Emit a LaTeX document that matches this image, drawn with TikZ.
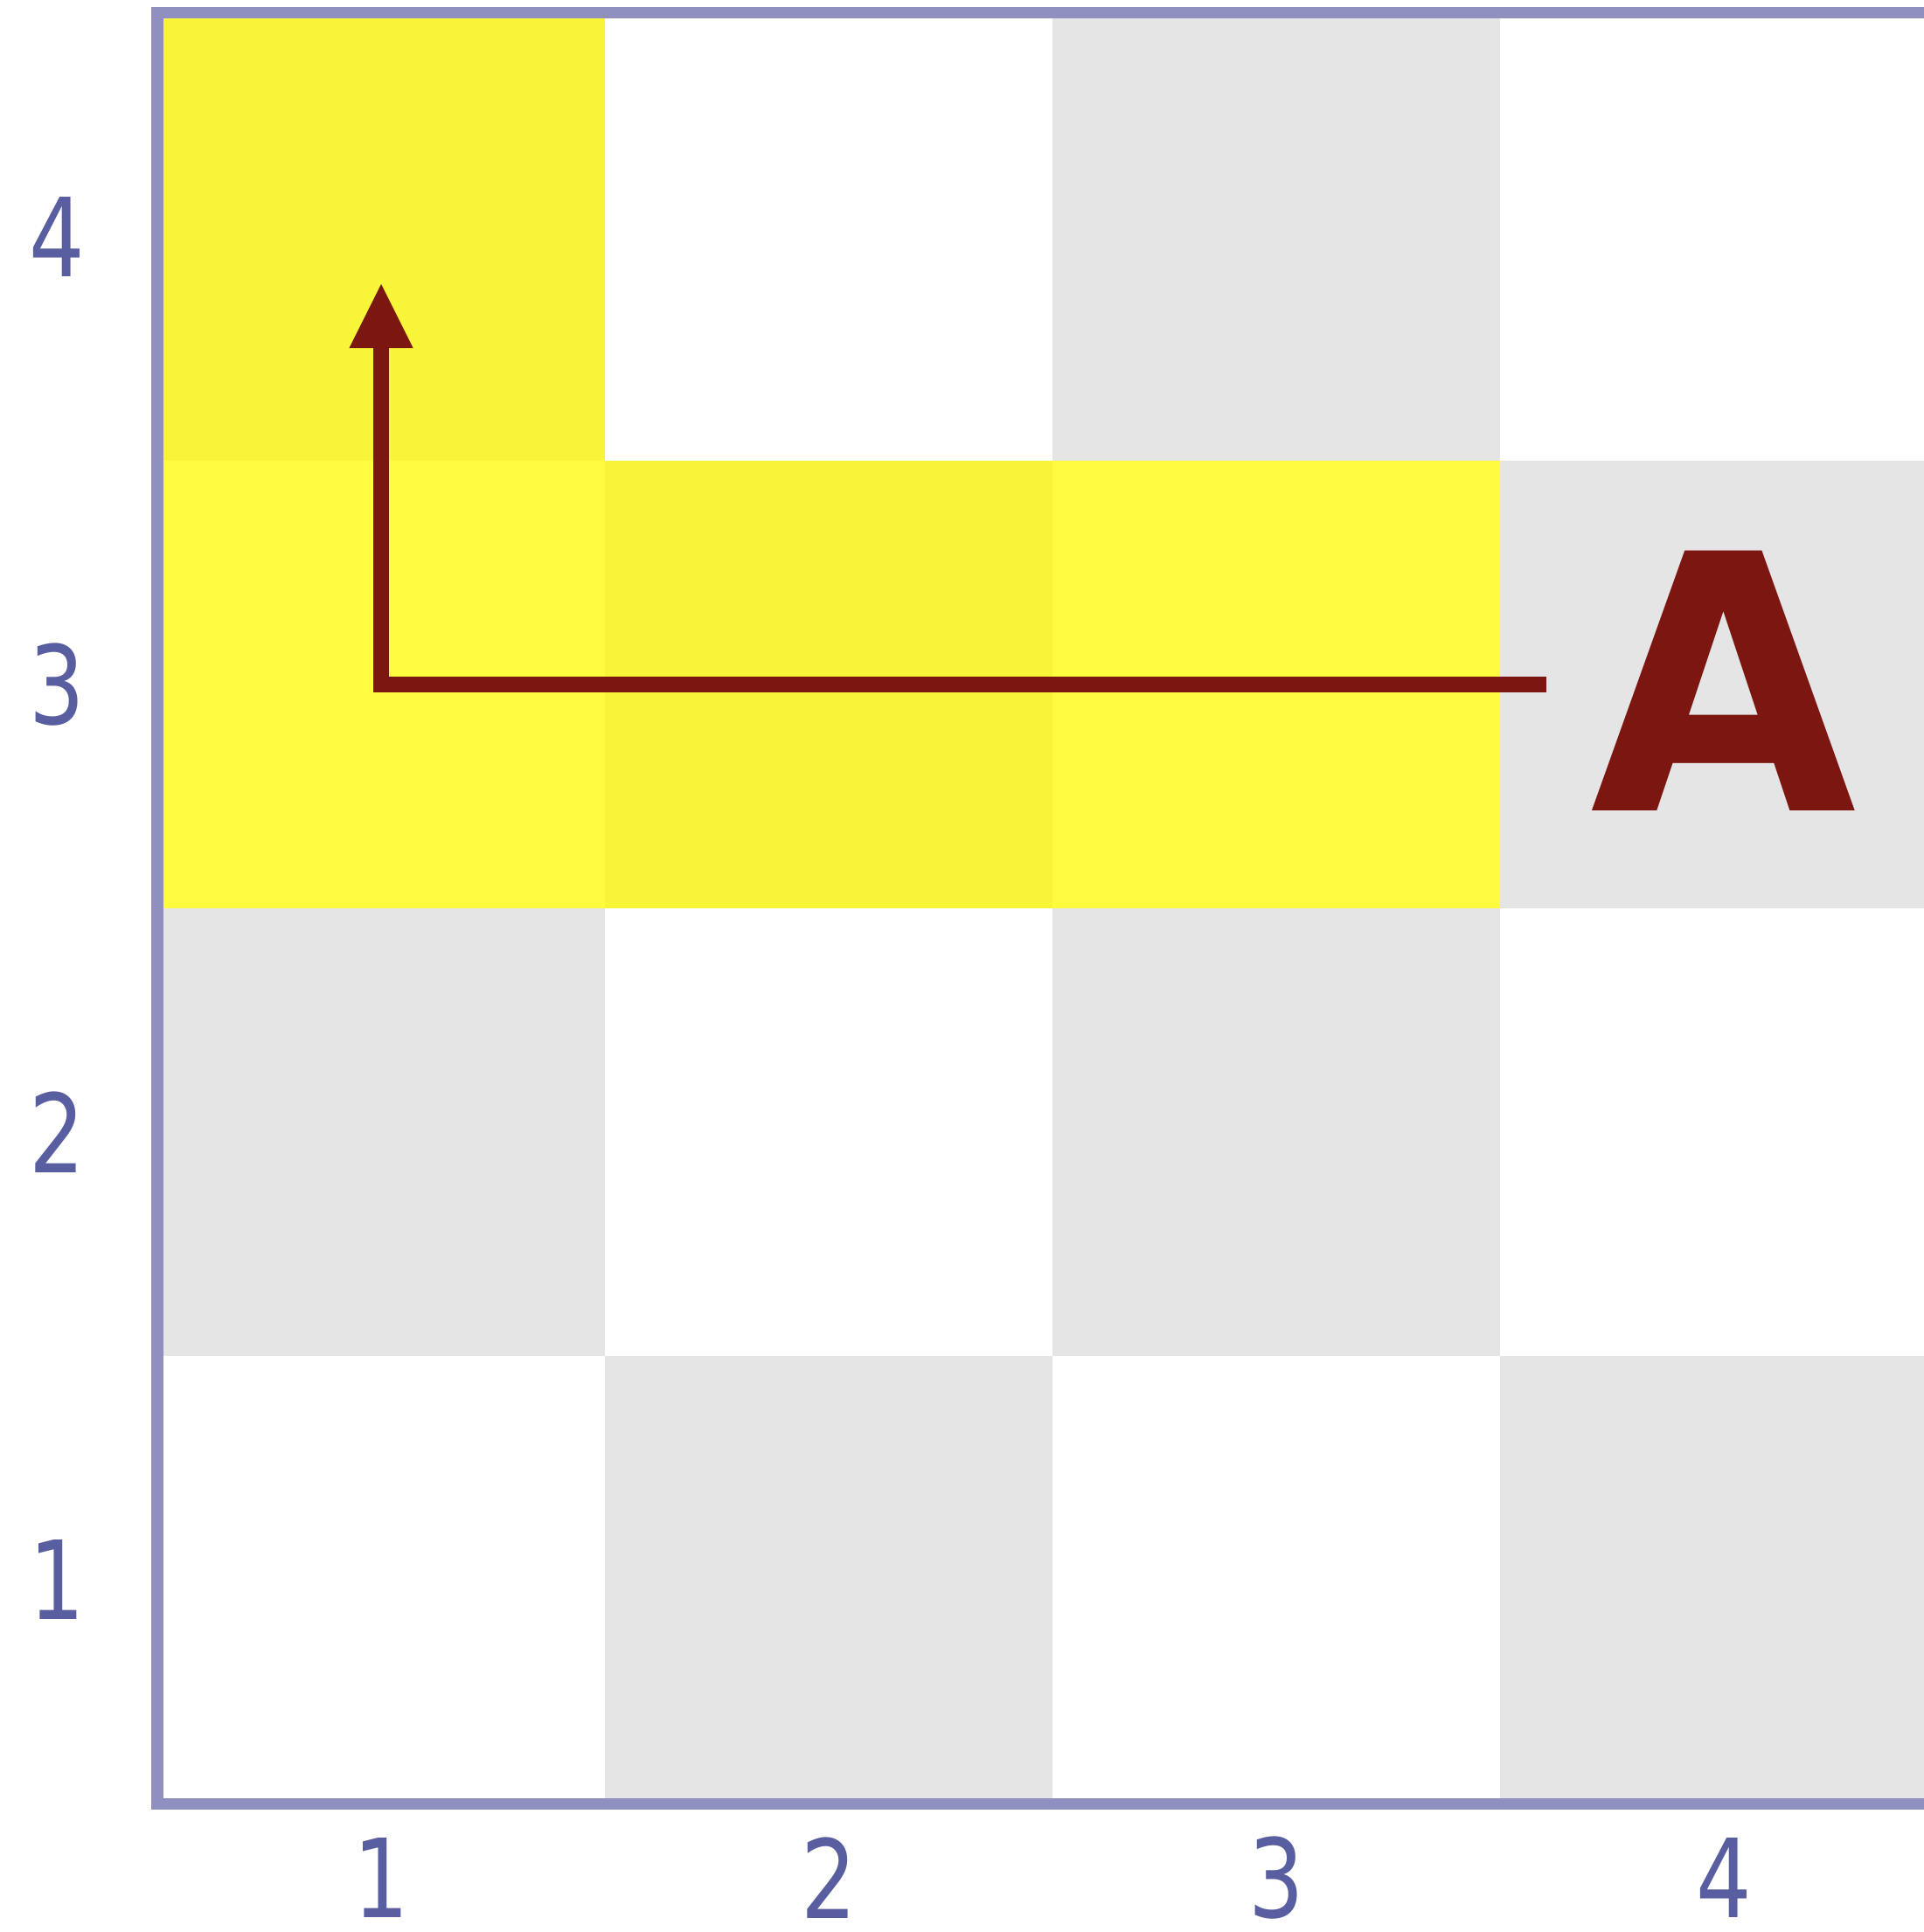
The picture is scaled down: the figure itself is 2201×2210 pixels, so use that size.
\documentclass[tikz,border=0pt]{standalone}
\usepackage{fontspec}
\setmainfont{DejaVu Sans}
\usetikzlibrary{arrows.meta}
\definecolor{cellgrey}{RGB}{229,229,229}
\definecolor{seenyellow}{RGB}{255,251,0}
\definecolor{framecol}{RGB}{144,144,192}
\definecolor{labelcol}{RGB}{89,94,160}
\definecolor{pathred}{RGB}{123,22,16}
\newcommand{\narrowtext}[2]{\scalebox{#1}[1]{#2}}

\begin{document}
\begin{tikzpicture}[x=0.01cm, y=-0.01cm,
  greycell/.style={fill=cellgrey},
  seencell/.style={fill=seenyellow, fill opacity=0.75},
  frame/.style={draw=framecol, line width=0.13cm},
  axislabel/.style={text=labelcol, font=\fontsize{35.5pt}{35.5pt}\selectfont, inner sep=0pt},
  bigletter/.style={text=pathred, font=\fontsize{116pt}{116pt}\selectfont\bfseries, inner sep=0pt},
  route/.style={draw=pathred, line width=0.185cm, -{Triangle[length=0.73cm, width=0.73cm, line width=0pt]}}]
\useasboundingbox (0,0) rectangle (2201,2210);
\clip (0,0) rectangle (2201,2210);
\foreach \c in {1,...,4} {
  \foreach \r in {1,...,4} {
    \pgfmathtruncatemacro{\odd}{mod(\c+\r,2)}
    \ifnum\odd=1
      \fill[greycell] ({180+512*(\c-1)},{2063-512*\r}) rectangle ++(512,512);
    \fi
  }
}
\foreach \c/\r in {1/4,1/3,2/3,3/3}
  \fill[seencell] ({180+512*(\c-1)},{2063-512*\r}) rectangle ++(512,512);
\draw[frame] (180,15) rectangle (2228,2063);
\foreach \n in {1,...,4} {
  \node[axislabel] (row\n) at (65,{2063-512*\n+256}) {\narrowtext{0.8}{\n}};
  \node[axislabel] (col\n) at ({180+512*\n-256},2148) {\narrowtext{0.8}{\n}};
}
\node[bigletter] (A) at (1972,779) {\narrowtext{0.965}{A}};
\coordinate (start) at (1769,783);
\coordinate (tip) at (436,325);
\draw[route] (start) -| (tip);
\end{tikzpicture}
\end{document}
